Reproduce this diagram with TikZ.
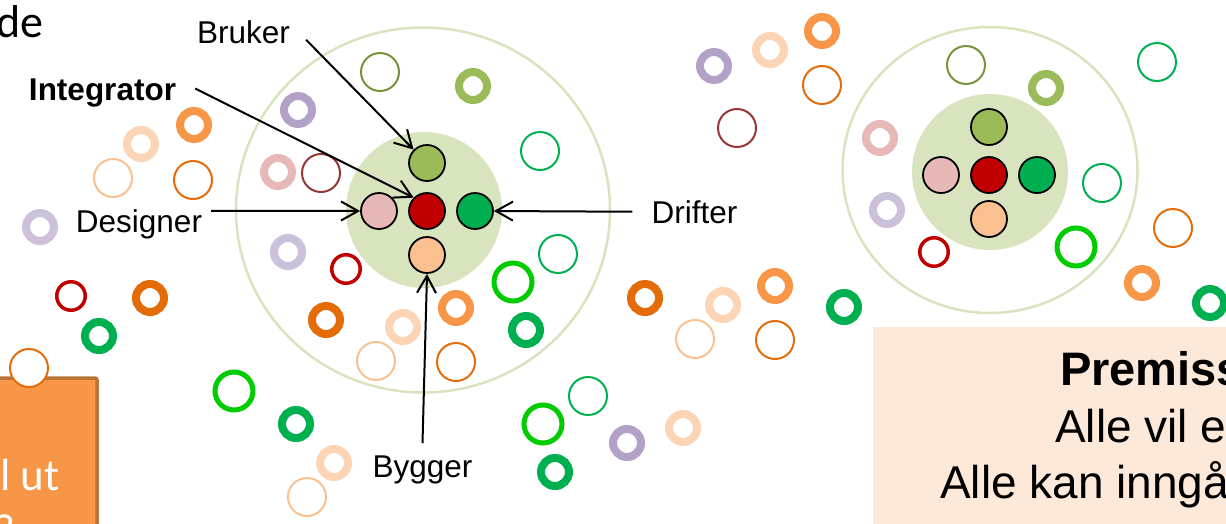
\documentclass[tikz,border=0pt]{standalone}
\usepackage{fontspec}
\setmainfont{Liberation Sans}
\newfontfamily\calibri{Carlito}
\usetikzlibrary{shapes,arrows.meta}

\definecolor{cOrange}{HTML}{F79646}
\definecolor{cOrangeDk}{HTML}{E36C09}
\definecolor{cApricot}{HTML}{FAC090}
\definecolor{cPeach}{HTML}{FBD5B5}
\definecolor{cOlive}{HTML}{9BBB59}
\definecolor{cOliveDk}{HTML}{77933C}
\definecolor{cPurple}{HTML}{B3A2C7}
\definecolor{cLilac}{HTML}{CCC1DA}
\definecolor{cRose}{HTML}{E6B9B8}
\definecolor{cBrick}{HTML}{953735}
\definecolor{cRed}{HTML}{C00000}
\definecolor{cGreen}{HTML}{00B050}
\definecolor{cLime}{HTML}{00CC00}
\definecolor{cZone}{HTML}{D7E4BD}
\definecolor{cBoxEdge}{HTML}{B97437}
\definecolor{cPeachBox}{HTML}{FDE9D9}

\tikzset{>={Straight Barb[length=17pt,width=19pt]}}
\tikzstyle{thickRing} = [circle, draw, line width=8pt, minimum size=28pt, inner sep=0pt]
\tikzstyle{thinRing} = [circle, draw, line width=2pt, minimum size=38pt, inner sep=0pt]
\tikzstyle{redRing} = [circle, draw=cRed, line width=3.5pt, minimum size=28.5pt, inner sep=0pt]
\tikzstyle{limeRing} = [circle, draw=cLime, line width=5pt, minimum size=38pt, inner sep=0pt]
\tikzstyle{role} = [circle, draw=black, line width=1.8pt, minimum size=36pt, inner sep=0pt, node distance=48pt]
\tikzstyle{zone} = [ellipse, draw=cZone, line width=2.5pt, inner sep=0pt]
\tikzstyle{core} = [circle, fill=cZone, minimum size=156pt, inner sep=0pt]
\tikzstyle{roleLabel} = [inner sep=0pt, font=\fontsize{31.5}{36}\selectfont]
\tikzstyle{bigText} = [inner sep=0pt, font=\fontsize{46}{56}\selectfont]
\tikzstyle{line} = [draw,->,line width=2pt]

\begin{document}
\begin{tikzpicture}[x=1pt, y=-1pt]

   \useasboundingbox (0,0) rectangle (1226,523);
   \clip (0,0) rectangle (1226,523);

   %% Boxes
   \draw[fill=cOrange, draw=cBoxEdge, line width=3.5pt, rounded corners=2pt] (-10,378) rectangle (97,545);
   \fill[cPeachBox] (873,327) rectangle (1240,545);

   \node[bigText, font=\calibri\fontsize{46}{56}\selectfont, anchor=base east] (deTxt) at (44,37) {de};
   \node[bigText, font=\calibri\fontsize{45}{54}\selectfont, text=white, anchor=base west] (utTxt) at (0,490) {l ut};
   \node[bigText, font=\calibri\fontsize{45}{54}\selectfont, text=white, anchor=base west] (qTxt) at (-6,545) {?};

   \node[bigText, font=\bfseries\fontsize{47}{56}\selectfont, anchor=base west] (premiss) at (1060,385) {Premiss};
   \node[bigText, anchor=base west] (vil) at (1055,442) {Alle vil e};
   \node[bigText, anchor=base west] (kan) at (940,498) {Alle kan inngå};

   %% Zones
   \node[zone, minimum width=374pt, minimum height=365pt] (zoneA) at (423,210) {};
   \node[core] (coreA) at (424,210) {};
   \node[zone, minimum width=295pt, minimum height=286pt] (zoneB) at (990,170) {};
   \node[core] (coreB) at (990,172) {};

   % Roles of zone one
   \node[role, fill=cRed] (roleI1) at (427,211) {};
   \node[role, fill=cOlive] (roleB1) [above of = roleI1] {};
   \node[role, fill=cRose] (roleL1) [left of = roleI1] {};
   \node[role, fill=cGreen] (roleD1) [right of = roleI1] {};
   \node[role, fill=cApricot] (roleY1) [below of = roleI1, yshift=4pt] {};

   % Roles of zone two
   \node[role, fill=cRed] (roleI2) at (989,175) {};
   \node[role, fill=cOlive] (roleB2) [above of = roleI2] {};
   \node[role, fill=cRose] (roleL2) [left of = roleI2] {};
   \node[role, fill=cGreen] (roleD2) [right of = roleI2] {};
   \node[role, fill=cApricot] (roleY2) [below of = roleI2, yshift=4pt] {};

   %% Thick rings
   \node[thickRing, draw=cOrange] (tk1) at (194,125) {};
   \node[thickRing, draw=cPeach] (tk2) at (141,144) {};
   \node[thickRing, draw=cLilac] (tk3) at (40,227) {};
   \node[thickRing, draw=cOrangeDk] (tk4) at (150,298) {};
   \node[thickRing, draw=cGreen] (tk5) at (99,336) {};
   \node[thickRing, draw=cOlive] (tk6) at (473,86) {};
   \node[thickRing, draw=cPurple] (tk7) at (298,110) {};
   \node[thickRing, draw=cRose] (tk8) at (278,172) {};
   \node[thickRing, draw=cLilac] (tk9) at (288,252) {};
   \node[thickRing, draw=cOrange] (tk10) at (456,308) {};
   \node[thickRing, draw=cOrangeDk] (tk11) at (326,320) {};
   \node[thickRing, draw=cPeach] (tk12) at (403,327) {};
   \node[thickRing, draw=cGreen] (tk13) at (526,330) {};
   \node[thickRing, draw=cGreen] (tk14) at (296,424) {};
   \node[thickRing, draw=cPeach] (tk15) at (334,463) {};
   \node[thickRing, draw=cGreen] (tk16) at (555,472) {};
   \node[thickRing, draw=cPurple] (tk17) at (627,443) {};
   \node[thickRing, draw=cPeach] (tk18) at (683,428) {};
   \node[thickRing, draw=cPurple] (tk19) at (714,66) {};
   \node[thickRing, draw=cPeach] (tk20) at (770,50) {};
   \node[thickRing, draw=cOrange] (tk21) at (822,31) {};
   \node[thickRing, draw=cOrangeDk] (tk22) at (645,298) {};
   \node[thickRing, draw=cPeach] (tk23) at (723,305) {};
   \node[thickRing, draw=cOrange] (tk24) at (775,286) {};
   \node[thickRing, draw=cGreen] (tk25) at (844,307) {};
   \node[thickRing, draw=cOlive] (tk26) at (1046,88) {};
   \node[thickRing, draw=cRose] (tk27) at (880,138) {};
   \node[thickRing, draw=cLilac] (tk28) at (887,210) {};
   \node[thickRing, draw=cOrange] (tk29) at (1142,283) {};
   \node[thickRing, draw=cGreen] (tk30) at (1210,303) {};

   %% Thin rings
   \node[thinRing, draw=cApricot] (tn1) at (113,178) {};
   \node[thinRing, draw=cOrangeDk] (tn2) at (193,180) {};
   \node[thinRing, draw=cOrangeDk, fill=white] (tn3) at (29,368) {};
   \node[thinRing, draw=cOliveDk] (tn4) at (380,72) {};
   \node[thinRing, draw=cBrick] (tn5) at (321,173) {};
   \node[thinRing, draw=cGreen] (tn6) at (540,151) {};
   \node[thinRing, draw=cGreen] (tn7) at (558,254) {};
   \node[thinRing, draw=cApricot] (tn8) at (376,361) {};
   \node[thinRing, draw=cOrangeDk] (tn9) at (456,362) {};
   \node[thinRing, draw=cApricot] (tn10) at (307,497) {};
   \node[thinRing, draw=cGreen] (tn11) at (588,396) {};
   \node[thinRing, draw=cOrangeDk] (tn12) at (822,85) {};
   \node[thinRing, draw=cBrick] (tn13) at (737,128) {};
   \node[thinRing, draw=cApricot] (tn14) at (695,339) {};
   \node[thinRing, draw=cOrangeDk] (tn15) at (775,340) {};
   \node[thinRing, draw=cOliveDk] (tn16) at (966,65) {};
   \node[thinRing, draw=cGreen] (tn17) at (1157,62) {};
   \node[thinRing, draw=cGreen] (tn18) at (1102,183) {};
   \node[thinRing, draw=cOrangeDk] (tn19) at (1173,228) {};

   %% Red and lime rings
   \node[redRing] (rd1) at (71,296) {};
   \node[redRing] (rd2) at (346,269) {};
   \node[redRing] (rd3) at (934,252) {};

   \node[limeRing] (lm1) at (234,391) {};
   \node[limeRing] (lm2) at (513,282) {};
   \node[limeRing] (lm3) at (543,424) {};
   \node[limeRing] (lm4) at (1076,247) {};

   %% Labels
   \node[roleLabel, anchor=base] (brukerLbl) at (243.5,43) {Bruker};
   \node[roleLabel, font=\bfseries\fontsize{31.5}{36}\selectfont, anchor=base] (intLbl) at (102.5,100) {Integrator};
   \node[roleLabel, anchor=base] (designLbl) at (139,232) {Designer};
   \node[roleLabel, anchor=base] (driftLbl) at (694.5,223) {Drifter};
   \node[roleLabel, anchor=base] (byggLbl) at (422.5,477) {Bygger};

   %% Arrows
   \path[line] (brukerLbl.east)+(16,8) -- (roleB1.north west);
   \path[line] (intLbl.east)+(19,-4) -- (roleI1.north west);
   \path[line] (designLbl.east)+(9,-13) -- (roleL1.west);
   \path[line] (driftLbl.west)+(-19,0) -- (roleD1.east);
   \path[line] (byggLbl.north)+(0,-12) -- (roleY1.south);

\end{tikzpicture}
\end{document}
